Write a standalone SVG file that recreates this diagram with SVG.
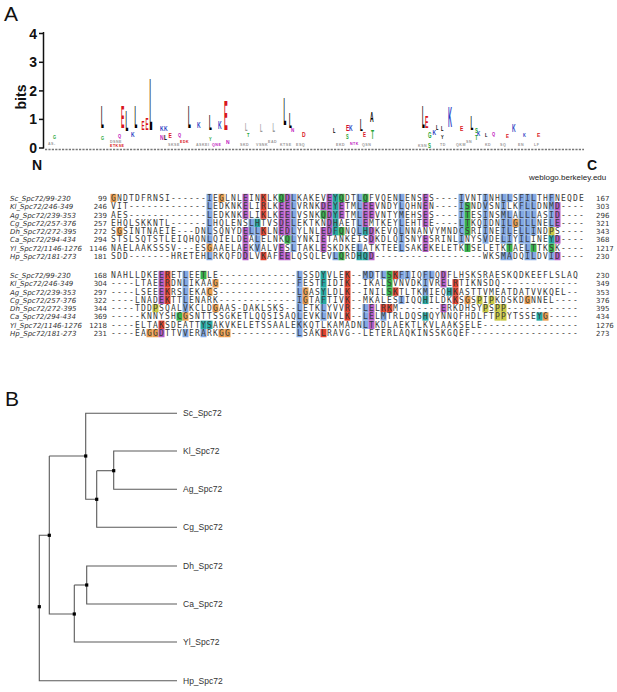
<svg xmlns="http://www.w3.org/2000/svg" xmlns:xlink="http://www.w3.org/1999/xlink" width="617" height="692" viewBox="0 0 617 692">
<style>
.pl{font-family:"Liberation Sans",Arial,sans-serif;font-size:21px;fill:#111}
.ax{font-family:"Liberation Sans",Arial,sans-serif;font-size:14px;font-weight:bold;fill:#111}
.lg{font-family:"Liberation Sans",Arial,sans-serif;font-size:10px;font-weight:bold}
.tn{font-family:"Liberation Sans",Arial,sans-serif;font-size:3.6px;font-weight:bold;letter-spacing:0.5px}
.wl{font-family:"Liberation Sans",Arial,sans-serif;font-size:8px;fill:#222}
.seq{font-family:"DejaVu Sans Mono",monospace;font-size:8px;letter-spacing:1.184px;fill:#3a3a3a}
.lab{font-family:"DejaVu Sans",sans-serif;font-size:7px;font-style:italic;fill:#333}
.num{font-family:"DejaVu Sans",sans-serif;font-size:7px;fill:#333}
.nl{text-anchor:end}
.edge{fill:none;stroke:#5a5a5a;stroke-width:1.1}
.leaf{font-family:"Liberation Sans",Arial,sans-serif;font-size:8.5px;fill:#333}
.k{fill:#000}.r{fill:#d8141c}.b{fill:#2c3fc4}.g{fill:#1fa635}.m{fill:#c020c0}.y{fill:#999}
</style>
<defs>
<rect id="hB" width="6" height="8.3" fill="#82a8e2"/>
<rect id="hM" width="6" height="8.3" fill="#b45cc6"/>
<rect id="hR" width="6" height="8.3" fill="#e2402c"/>
<rect id="hG" width="6" height="8.3" fill="#36b24a"/>
<rect id="hO" width="6" height="8.3" fill="#e89a4c"/>
<rect id="hY" width="6" height="8.3" fill="#c8c844"/>
<rect id="hC" width="6" height="8.3" fill="#25a8a2"/>
<rect id="dot" x="-1.6" y="-1.6" width="3.2" height="3.2" fill="#000"/>
</defs>
<rect width="617" height="692" fill="#fff"/>

<g id="panelA-logo">
<text class="pl" x="4" y="21">A</text>
<line x1="43.5" y1="32" x2="43.5" y2="148.5" stroke="#111" stroke-width="1.5"/>
<g stroke="#111" stroke-width="1.5">
<line x1="39" y1="33.5" x2="43.5" y2="33.5"/><line x1="39" y1="62.3" x2="43.5" y2="62.3"/><line x1="39" y1="90.9" x2="43.5" y2="90.9"/><line x1="39" y1="119.4" x2="43.5" y2="119.4"/><line x1="39" y1="148" x2="43.5" y2="148"/>
</g>
<text class="ax" x="37" y="38.5" text-anchor="end">4</text>
<text class="ax" x="37" y="67.3" text-anchor="end">3</text>
<text class="ax" x="37" y="95.9" text-anchor="end">2</text>
<text class="ax" x="37" y="124.4" text-anchor="end">1</text>
<text class="ax" x="37" y="153" text-anchor="end">0</text>
<text class="ax" transform="translate(26,97) rotate(-90)" text-anchor="middle">bits</text>
<line x1="45" y1="149.5" x2="584" y2="149.5" stroke="#777" stroke-width="1.4" stroke-dasharray="2.2 1.2"/>
<text class="ax" x="32" y="170">N</text>
<text class="ax" x="587" y="170">C</text>
<text class="wl" x="529" y="180">weblogo.berkeley.edu</text>
<g class="lg">
<text class="k" transform="translate(101,128) scale(0.45,3.2)">L</text>
<text class="k" transform="translate(125.5,131) scale(0.45,2.9)">L</text>
<text class="k" transform="translate(134.5,128) scale(0.45,3.2)">L</text>
<text class="k" transform="translate(149.5,130) scale(0.45,7.5)">L</text>
<text class="k" transform="translate(188,128) scale(0.45,3.2)">L</text>
<text class="k" transform="translate(209,130) scale(0.45,2.2)">L</text>
<text class="k" transform="translate(283.5,125) scale(0.45,3.8)">L</text>
<text class="k" transform="translate(289,128) scale(0.45,2.2)">L</text>
<text class="y" transform="translate(272.5,132) scale(0.4,1.2)">L</text>
<text class="y" transform="translate(260,132) scale(0.4,1.1)">L</text>
<text class="y" transform="translate(245,131) scale(0.4,1.0)">L</text>
<text class="k" transform="translate(360,131) scale(0.45,1.7)">L</text>
<text class="k" transform="translate(422,128) scale(0.45,3.1)">L</text>
<text class="k" transform="translate(470.5,130) scale(0.45,2.1)">L</text>
<text class="k" transform="translate(333,133) scale(0.4,0.8)">L</text>
<text class="k" transform="translate(436,130) scale(0.4,0.8)">L</text>
<text class="k" transform="translate(485,137) scale(0.4,0.6)">L</text>
<text class="r" transform="translate(121,128) scale(0.5,3.2)">E</text>
<text class="r" transform="translate(141.5,130) scale(0.45,1.2)">E</text>
<text class="r" transform="translate(145.5,130) scale(0.45,1.6)">E</text>
<text class="r" transform="translate(224,130) scale(0.55,4.3)">E</text>
<text class="r" transform="translate(425,128) scale(0.5,1.7)">E</text>
<text class="r" transform="translate(346,131) scale(0.5,0.9)">E</text>
<text class="r" transform="translate(363,137) scale(0.45,0.8)">E</text>
<text class="r" transform="translate(460,131) scale(0.5,0.8)">E</text>
<text class="r" transform="translate(168.5,138) scale(0.5,0.8)">E</text>
<text class="r" transform="translate(506,138) scale(0.45,0.5)">E</text>
<text class="r" transform="translate(537,137) scale(0.5,0.6)">E</text>
<text class="r" transform="translate(302,137) scale(0.5,0.8)">D</text>
<text class="b" transform="translate(131,137) scale(0.5,0.8)">K</text>
<text class="b" transform="translate(160,131) scale(0.5,0.8)">K</text>
<text class="b" transform="translate(164,131) scale(0.5,0.8)">K</text>
<text class="b" transform="translate(197,128) scale(0.5,0.9)">K</text>
<text class="b" transform="translate(218,129) scale(0.5,1.0)">K</text>
<text class="b" transform="translate(349,131) scale(0.5,0.9)">K</text>
<text class="b" transform="translate(432.5,135) scale(0.5,0.8)">K</text>
<text class="b" transform="translate(448,127) scale(0.55,2.9)">K</text>
<text class="b" transform="translate(477,136) scale(0.45,0.8)">K</text>
<text class="b" transform="translate(512,132) scale(0.5,1.0)">K</text>
<text class="b" transform="translate(523,137) scale(0.4,0.6)">K</text>
<text class="k" transform="translate(370,122) scale(0.5,1.5)">A</text>
<text class="g" transform="translate(371,139) scale(0.5,1.2)">T</text>
<text class="g" transform="translate(53,139) scale(0.4,0.5)">G</text>
<text class="g" transform="translate(101,140) scale(0.4,0.5)">G</text>
<text class="g" transform="translate(209,141) scale(0.4,0.6)">Y</text>
<text class="g" transform="translate(346,139) scale(0.4,0.7)">S</text>
<text class="g" transform="translate(428,138) scale(0.45,0.9)">G</text>
<text class="g" transform="translate(428,147.5) scale(0.45,0.8)">S</text>
<text class="g" transform="translate(475,133) scale(0.45,0.7)">S</text>
<text class="g" transform="translate(475,140) scale(0.45,0.7)">T</text>
<text class="g" transform="translate(247,137) scale(0.4,0.6)">T</text>
<text class="m" transform="translate(160,140) scale(0.5,0.8)">N</text>
<text class="m" transform="translate(178,137) scale(0.4,0.5)">Q</text>
<text class="m" transform="translate(226,144) scale(0.5,0.6)">N</text>
<text class="m" transform="translate(291,132) scale(0.45,0.6)">N</text>
<text class="m" transform="translate(492,136) scale(0.4,0.5)">Q</text>
<text class="m" transform="translate(118,138) scale(0.4,0.5)">Q</text>
<text class="k" transform="translate(164,140) scale(0.5,0.8)">L</text>
<text class="k" transform="translate(441,131) scale(0.4,0.8)">L</text>
<text class="k" transform="translate(441,139) scale(0.4,0.6)">Y</text>
</g>
<g class="tn">
<text class="y" x="48" y="145">AS-</text>
<text class="y" x="110" y="143">DSNE</text><text class="r" x="110" y="147">ETKSE</text>
<text class="y" x="168" y="146">SKSE</text><text class="r" x="180" y="143">EDK</text>
<text class="y" x="196" y="146">ASKEI</text><text class="m" x="212" y="146">QNE</text>
<text class="y" x="240" y="146">SKD</text><text class="y" x="256" y="146">VSNK</text>
<text class="y" x="268" y="143">EAD</text><text class="y" x="280" y="146">KTSE</text>
<text class="y" x="296" y="146">ESQ</text>
<text class="y" x="336" y="146">EKD</text><text class="m" x="350" y="145">NTK</text>
<text class="y" x="362" y="146">QSN</text>
<text class="y" x="418" y="147">KSN</text><text class="y" x="440" y="146">TD</text>
<text class="y" x="456" y="146">QKM</text><text class="y" x="466" y="143">SN</text>
<text class="y" x="485" y="146">KD</text><text class="y" x="500" y="146">SQ</text>
<text class="y" x="518" y="146">EN</text><text class="y" x="534" y="146">LF</text>
</g>
</g>

<g id="panelA-alignment">
<g id="block1-highlights">
<g transform="translate(110.5,193.85)"><use href="#hO" x="0"/><use href="#hO" x="108"/><use href="#hB" x="96"/><use href="#hB" x="180"/><use href="#hB" x="246"/><use href="#hB" x="288"/><use href="#hB" x="348"/><use href="#hB" x="372"/><use href="#hB" x="390"/><use href="#hB" x="396"/><use href="#hB" x="408"/><use href="#hB" x="414"/><use href="#hB" x="420"/><use href="#hB" x="438"/><use href="#hM" x="132"/><use href="#hM" x="174"/><use href="#hM" x="216"/><use href="#hM" x="312"/><use href="#hR" x="150"/><use href="#hG" x="168"/><use href="#hG" x="228"/><use href="#hG" x="252"/><use href="#hC" x="222"/></g>
<g transform="translate(110.5,202.15)"><use href="#hB" x="96"/><use href="#hB" x="180"/><use href="#hB" x="246"/><use href="#hB" x="288"/><use href="#hB" x="348"/><use href="#hB" x="372"/><use href="#hB" x="390"/><use href="#hB" x="408"/><use href="#hB" x="414"/><use href="#hB" x="420"/><use href="#hB" x="438"/><use href="#hM" x="132"/><use href="#hM" x="168"/><use href="#hM" x="174"/><use href="#hM" x="210"/><use href="#hM" x="216"/><use href="#hM" x="228"/><use href="#hM" x="252"/><use href="#hM" x="258"/><use href="#hM" x="312"/><use href="#hM" x="444"/><use href="#hR" x="150"/><use href="#hC" x="222"/><use href="#hG" x="354"/></g>
<g transform="translate(110.5,210.45)"><use href="#hB" x="96"/><use href="#hB" x="180"/><use href="#hB" x="246"/><use href="#hB" x="288"/><use href="#hB" x="348"/><use href="#hB" x="372"/><use href="#hB" x="390"/><use href="#hB" x="396"/><use href="#hB" x="408"/><use href="#hB" x="414"/><use href="#hB" x="420"/><use href="#hB" x="438"/><use href="#hM" x="132"/><use href="#hM" x="168"/><use href="#hM" x="174"/><use href="#hM" x="216"/><use href="#hM" x="228"/><use href="#hM" x="252"/><use href="#hM" x="258"/><use href="#hM" x="312"/><use href="#hM" x="444"/><use href="#hR" x="150"/><use href="#hG" x="210"/><use href="#hG" x="354"/><use href="#hC" x="222"/></g>
<g transform="translate(110.5,218.75)"><use href="#hB" x="96"/><use href="#hB" x="138"/><use href="#hB" x="180"/><use href="#hB" x="246"/><use href="#hB" x="288"/><use href="#hB" x="348"/><use href="#hB" x="372"/><use href="#hB" x="390"/><use href="#hB" x="396"/><use href="#hB" x="408"/><use href="#hB" x="414"/><use href="#hB" x="420"/><use href="#hB" x="438"/><use href="#hC" x="144"/><use href="#hC" x="222"/><use href="#hM" x="168"/><use href="#hM" x="174"/><use href="#hM" x="216"/><use href="#hM" x="252"/><use href="#hM" x="312"/><use href="#hM" x="444"/><use href="#hG" x="354"/><use href="#hO" x="402"/></g>
<g transform="translate(110.5,227.05)"><use href="#hO" x="6"/><use href="#hB" x="96"/><use href="#hB" x="138"/><use href="#hB" x="144"/><use href="#hB" x="180"/><use href="#hB" x="246"/><use href="#hB" x="288"/><use href="#hB" x="348"/><use href="#hB" x="372"/><use href="#hB" x="390"/><use href="#hB" x="396"/><use href="#hB" x="408"/><use href="#hB" x="414"/><use href="#hB" x="420"/><use href="#hM" x="132"/><use href="#hM" x="168"/><use href="#hM" x="174"/><use href="#hM" x="210"/><use href="#hM" x="216"/><use href="#hM" x="258"/><use href="#hR" x="150"/><use href="#hC" x="222"/><use href="#hC" x="252"/><use href="#hG" x="228"/><use href="#hG" x="354"/><use href="#hY" x="438"/></g>
<g transform="translate(110.5,235.35)"><use href="#hB" x="96"/><use href="#hB" x="144"/><use href="#hB" x="180"/><use href="#hB" x="288"/><use href="#hB" x="348"/><use href="#hB" x="372"/><use href="#hB" x="390"/><use href="#hB" x="396"/><use href="#hB" x="408"/><use href="#hB" x="414"/><use href="#hM" x="132"/><use href="#hM" x="210"/><use href="#hM" x="258"/><use href="#hM" x="312"/><use href="#hM" x="444"/><use href="#hG" x="174"/><use href="#hC" x="438"/></g>
<g transform="translate(110.5,243.65)"><use href="#hO" x="96"/><use href="#hM" x="132"/><use href="#hM" x="168"/><use href="#hM" x="210"/><use href="#hM" x="312"/><use href="#hB" x="144"/><use href="#hB" x="180"/><use href="#hB" x="246"/><use href="#hB" x="288"/><use href="#hB" x="414"/><use href="#hG" x="354"/><use href="#hG" x="396"/><use href="#hG" x="420"/><use href="#hG" x="438"/></g>
<g transform="translate(110.5,251.95)"><use href="#hB" x="96"/><use href="#hB" x="222"/><use href="#hB" x="390"/><use href="#hB" x="396"/><use href="#hB" x="414"/><use href="#hB" x="420"/><use href="#hB" x="438"/><use href="#hM" x="132"/><use href="#hM" x="168"/><use href="#hM" x="174"/><use href="#hM" x="258"/><use href="#hM" x="444"/><use href="#hR" x="150"/><use href="#hG" x="228"/><use href="#hC" x="246"/><use href="#hC" x="252"/></g>
</g>
<g id="block2-highlights">
<g transform="translate(110.5,270.85)"><use href="#hM" x="48"/><use href="#hM" x="330"/><use href="#hR" x="54"/><use href="#hR" x="234"/><use href="#hR" x="282"/><use href="#hB" x="72"/><use href="#hB" x="186"/><use href="#hB" x="252"/><use href="#hB" x="258"/><use href="#hB" x="270"/><use href="#hB" x="288"/><use href="#hB" x="294"/><use href="#hB" x="312"/><use href="#hB" x="318"/><use href="#hG" x="90"/><use href="#hG" x="276"/><use href="#hC" x="210"/></g>
<g transform="translate(110.5,279.15)"><use href="#hM" x="48"/><use href="#hM" x="330"/><use href="#hR" x="54"/><use href="#hR" x="234"/><use href="#hR" x="342"/><use href="#hB" x="72"/><use href="#hB" x="186"/><use href="#hB" x="312"/><use href="#hO" x="102"/><use href="#hC" x="210"/><use href="#hG" x="276"/></g>
<g transform="translate(110.5,287.45)"><use href="#hM" x="48"/><use href="#hR" x="54"/><use href="#hR" x="234"/><use href="#hR" x="282"/><use href="#hR" x="342"/><use href="#hB" x="72"/><use href="#hB" x="186"/><use href="#hB" x="312"/><use href="#hO" x="96"/><use href="#hO" x="192"/><use href="#hC" x="210"/><use href="#hC" x="336"/><use href="#hG" x="276"/></g>
<g transform="translate(110.5,295.75)"><use href="#hM" x="48"/><use href="#hR" x="54"/><use href="#hR" x="234"/><use href="#hR" x="342"/><use href="#hB" x="72"/><use href="#hB" x="186"/><use href="#hB" x="288"/><use href="#hO" x="192"/><use href="#hO" x="354"/><use href="#hO" x="414"/><use href="#hC" x="210"/><use href="#hC" x="312"/><use href="#hY" x="366"/><use href="#hY" x="378"/></g>
<g transform="translate(110.5,304.05)"><use href="#hY" x="42"/><use href="#hY" x="372"/><use href="#hY" x="384"/><use href="#hY" x="390"/><use href="#hB" x="72"/><use href="#hB" x="186"/><use href="#hB" x="210"/><use href="#hB" x="252"/><use href="#hO" x="102"/><use href="#hR" x="234"/><use href="#hR" x="270"/><use href="#hR" x="276"/><use href="#hM" x="258"/><use href="#hM" x="330"/></g>
<g transform="translate(110.5,312.35)"><use href="#hG" x="66"/><use href="#hO" x="72"/><use href="#hO" x="432"/><use href="#hB" x="186"/><use href="#hB" x="210"/><use href="#hB" x="252"/><use href="#hB" x="270"/><use href="#hR" x="234"/><use href="#hM" x="258"/><use href="#hC" x="312"/><use href="#hC" x="426"/><use href="#hY" x="384"/><use href="#hY" x="390"/></g>
<g transform="translate(110.5,320.65)"><use href="#hR" x="48"/><use href="#hC" x="90"/><use href="#hC" x="96"/><use href="#hB" x="186"/><use href="#hB" x="252"/><use href="#hM" x="258"/></g>
<g transform="translate(110.5,328.95)"><use href="#hO" x="36"/><use href="#hO" x="42"/><use href="#hO" x="108"/><use href="#hO" x="114"/><use href="#hM" x="48"/><use href="#hB" x="72"/><use href="#hB" x="90"/><use href="#hB" x="186"/><use href="#hR" x="210"/></g>
</g>

<g id="block1-rows">
<text class="lab" x="10" y="200.9">Sc_Spc72/99-230</text><text class="num nl" x="107" y="200.9">99</text><text class="seq" x="111.09" y="200.9">GNDTDFRNSI------IEGLNLEINKLKQDLKAKEVEYQDTLQFVQENLENSES----IVNTINHLLSFILTHFNEQDE</text><text class="num" x="596" y="200.9">167</text>
<text class="lab" x="10" y="209.2">Kl_Spc72/246-349</text><text class="num nl" x="107" y="209.2">246</text><text class="seq" x="111.09" y="209.2">VIT-------------LEDKNKELIRLKEELVRNKDEYETMLEEVNDYLQHNEN----ISNDVSNILKFLLDNMD----</text><text class="num" x="596" y="209.2">303</text>
<text class="lab" x="10" y="217.5">Ag_Spc72/239-353</text><text class="num nl" x="107" y="217.5">239</text><text class="seq" x="111.09" y="217.5">AES-------------LEDKNKELIKLKEELVSNKQDYETMLEEVNTYMEHSES----ITESINSMLALLLASID----</text><text class="num" x="596" y="217.5">296</text>
<text class="lab" x="10" y="225.8">Cg_Spc72/257-376</text><text class="num nl" x="107" y="225.8">257</text><text class="seq" x="111.09" y="225.8">EHQLSKKNTL------LHQLENSLHTVSDELEKTKNDHAETLEMTKEYLEHTEE----LTKQIDNILGLLLNELE----</text><text class="num" x="596" y="225.8">321</text>
<text class="lab" x="10" y="234.1">Dh_Spc72/272-395</text><text class="num nl" x="107" y="234.1">272</text><text class="seq" x="111.09" y="234.1">SGSINTNAEIE---DNLSQNYDELLKLNEDLYLNLEDFQNQLHDKEVQLNNANVYMNDCSRIINEILELLINDPS----</text><text class="num" x="596" y="234.1">343</text>
<text class="lab" x="10" y="242.4">Ca_Spc72/294-434</text><text class="num nl" x="107" y="242.4">294</text><text class="seq" x="111.09" y="242.4">STSLSQTSTLEIQHQNLQIELDEALELNKQLYNKIETANKEISDKDLQISNYESRINLINYSVDELIYILINEYD----</text><text class="num" x="596" y="242.4">368</text>
<text class="lab" x="10" y="250.7">Yl_Spc72/1146-1276</text><text class="num nl" x="107" y="250.7">1146</text><text class="seq" x="111.09" y="250.7">NAELAAKSSSV---ESGAAELAEKVALVESLTAKLESKDKELATKTEELSAKEKELETKTSELETKTAELTTKSK----</text><text class="num" x="596" y="250.7">1217</text>
<text class="lab" x="10" y="259">Hp_Spc72/181-273</text><text class="num nl" x="107" y="259">181</text><text class="seq" x="111.09" y="259">SDD-------HRETEHLRKQFDDLVKAFEELQSQLEVLQRDHQD------------------WKSMADQILDVID----</text><text class="num" x="596" y="259">230</text>
</g>
<g id="block2-rows">
<text class="lab" x="10" y="277.9">Sc_Spc72/99-230</text><text class="num nl" x="107" y="277.9">168</text><text class="seq" x="111.09" y="277.9">NAHLLDKEERETLEETLE-------------LSSDYVLEK--MDTLSKFIIQFLQDFLHSKSRAESKQDKEEFLSLAQ</text><text class="num" x="596" y="277.9">230</text>
<text class="lab" x="10" y="286.2">Kl_Spc72/246-349</text><text class="num nl" x="107" y="286.2">304</text><text class="seq" x="111.09" y="286.2">----LTAEERDNLIKAAG-------------FESTFIDIK--IKALSVNVDKIVRELRTIKNSDQ-------------</text><text class="num" x="596" y="286.2">349</text>
<text class="lab" x="10" y="294.5">Ag_Spc72/239-353</text><text class="num nl" x="107" y="294.5">297</text><text class="seq" x="111.09" y="294.5">----LSEEEKRSLEKACS-------------LGASYLDLK--INILSKTLTKMIEQHKASTTVMEATDATVVKQEL--</text><text class="num" x="596" y="294.5">353</text>
<text class="lab" x="10" y="302.8">Cg_Spc72/257-376</text><text class="num nl" x="107" y="302.8">322</text><text class="seq" x="111.09" y="302.8">----LNADEKTTLENARK-------------IGTAFTIVK--MKALESIIQQHILDKKSGSPIPKDSKDGNNEL----</text><text class="num" x="596" y="302.8">376</text>
<text class="lab" x="10" y="311.1">Dh_Spc72/272-395</text><text class="num nl" x="107" y="311.1">344</text><text class="seq" x="111.09" y="311.1">----TDDPSQALVKCLDGAAS-DAKLSKS--LETKLYVVR--LELRKM-------ERKDHSYPSPP------------</text><text class="num" x="596" y="311.1">395</text>
<text class="lab" x="10" y="319.4">Ca_Spc72/294-434</text><text class="num nl" x="107" y="319.4">369</text><text class="seq" x="111.09" y="319.4">-----KNNYSHCGSNTTSSGKETLQQSISAQLEVKLNVLK--LELMTRLDQSHQYNNQFHDLFTPPYTSSEYG-----</text><text class="num" x="596" y="319.4">434</text>
<text class="lab" x="10" y="327.7">Yl_Spc72/1146-1276</text><text class="num nl" x="107" y="327.7">1218</text><text class="seq" x="111.09" y="327.7">----ELTAKSDEATTYSAKVKELETSSAALEKKQTLKAMADNLTKDLAEKTLKVLAAKSELE----------------</text><text class="num" x="596" y="327.7">1276</text>
<text class="lab" x="10" y="336">Hp_Spc72/181-273</text><text class="num nl" x="107" y="336">231</text><text class="seq" x="111.09" y="336">----EAGGDTTVVERARKGG-----------LSAKLRAVG--LETERLAQKINSSKGQEF------------------</text><text class="num" x="596" y="336">273</text>
</g>
</g>

<g id="panelB-tree">
<text class="pl" x="5" y="406">B</text>
<g id="connectors">
<path class="edge" d="M177,413.3H85.7V499.3H96.7"/>
<path class="edge" d="M96.7,470.7V527.3H177"/>
<path class="edge" d="M96.7,470.7H113.7"/>
<path class="edge" d="M177,451H113.7V489.3H177"/>
<path class="edge" d="M49.3,456H85.7"/>
<path class="edge" d="M49.3,456V614H74.3"/>
<path class="edge" d="M177,566H86.7V604H177"/>
<path class="edge" d="M74.3,585H86.7"/>
<path class="edge" d="M74.3,585V642H177"/>
<path class="edge" d="M49.3,535.3H39.3V680.7H177"/>
</g>
<g id="internal-nodes">
<use href="#dot" x="85.7" y="456"/>
<use href="#dot" x="96.7" y="499.3"/>
<use href="#dot" x="113.7" y="470.7"/>
<use href="#dot" x="49.3" y="535.3"/>
<use href="#dot" x="74.3" y="614"/>
<use href="#dot" x="86.7" y="585"/>
<use href="#dot" x="39.3" y="606.7"/>
</g>
<g id="leaf-Sc"><text class="leaf" x="183" y="416.3">Sc_Spc72</text></g>
<g id="leaf-Kl"><text class="leaf" x="183" y="454">Kl_Spc72</text></g>
<g id="leaf-Ag"><text class="leaf" x="183" y="492.3">Ag_Spc72</text></g>
<g id="leaf-Cg"><text class="leaf" x="183" y="530.3">Cg_Spc72</text></g>
<g id="leaf-Dh"><text class="leaf" x="183" y="569">Dh_Spc72</text></g>
<g id="leaf-Ca"><text class="leaf" x="183" y="607">Ca_Spc72</text></g>
<g id="leaf-Yl"><text class="leaf" x="183" y="645">Yl_Spc72</text></g>
<g id="leaf-Hp"><text class="leaf" x="183" y="683.7">Hp_Spc72</text></g>
</g>
</svg>
